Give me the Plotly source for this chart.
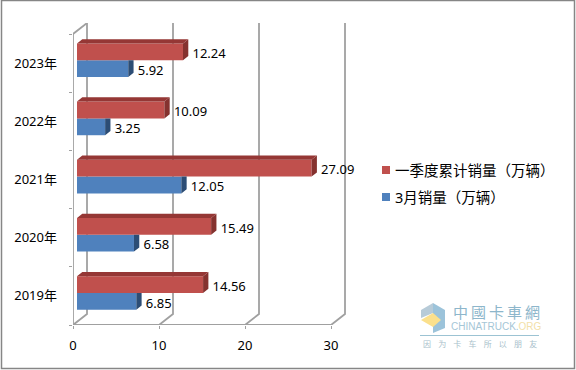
import plotly.graph_objects as go

categories = ["2019年", "2020年", "2021年", "2022年", "2023年"]
q1_sales = [14.56, 15.49, 27.09, 10.09, 12.24]
march_sales = [6.85, 6.58, 12.05, 3.25, 5.92]
q1_name = "一季度累计销量（万辆）"
march_name = "3月销量（万辆）"
x_ticks = [0, 10, 20, 30]

FONT = "Noto Sans CJK SC"
NUMFONT = "Noto Sans, Noto Sans CJK SC"
RED, RED_SIDE, RED_TOP = "#C0504D", "#85322F", "#953735"
BLUE, BLUE_SIDE = "#4F81BD", "#2C4D75"
GRID = "#A0A0A0"

L, R, T, B = 73, 346, 23, 325
W, H = 576, 370
BAND = 58.1
X1_SCALE = 8.6
X2_SCALE = 8.66
BAR_SHIFT = 4
y_top = 4.5 + 11 / BAND
wall_dx = 14 / X1_SCALE
wall_dy = 11 / BAND
face_dx = 5.3 / X2_SCALE
face_dy = 4.2 / BAND
bar_h = 16.8 / BAND
centre = 0.05
ys = list(range(len(categories)))


def px(x):
    return (x - L) / (R - L)


def py(y):
    return (B - y) / (B - T)


fig = go.Figure()

# back wall and floor lines
gx, gy = [], []
for t in x_ticks:
    gx += [t, t + wall_dx, t + wall_dx, None]
    gy += [-0.5, -0.5 + wall_dy, y_top, None]
gx += [0, wall_dx, None]
gy += [4.5, y_top, None]
fig.add_trace(go.Scatter(x=gx, y=gy, mode="lines", line=dict(color=GRID, width=1.8),
                         hoverinfo="skip", showlegend=False, cliponaxis=False, xaxis="x", yaxis="y"))


def side_faces(values, offset, clip_top):
    xs, yy = [], []
    for i, v in zip(ys, values):
        t = i + centre + offset + bar_h
        b = i + centre + offset
        xs += [v, v + face_dx, v + face_dx, v, v, None]
        yy += [t, t + (0 if clip_top else face_dy), b + face_dy, b, t, None]
    return xs, yy


def top_faces(values, offset):
    xs, yy = [], []
    for i, v in zip(ys, values):
        t = i + centre + offset + bar_h
        xs += [0, face_dx, v + face_dx, v, 0, None]
        yy += [t, t + face_dy, t + face_dy, t, t, None]
    return xs, yy


# front faces
fig.add_trace(go.Bar(y=[i + centre - bar_h / 2 for i in ys], x=march_sales, orientation="h", width=bar_h,
                     marker=dict(color=BLUE, line=dict(width=0)), showlegend=False,
                     xaxis="x2", yaxis="y"))
fig.add_trace(go.Bar(y=[i + centre + bar_h / 2 for i in ys], x=q1_sales, orientation="h", width=bar_h,
                     marker=dict(color=RED, line=dict(width=0)), showlegend=False,
                     xaxis="x2", yaxis="y"))

# 3D faces
for (xs, yy), col in [
    (side_faces(march_sales, -bar_h, True), BLUE_SIDE),
    (side_faces(q1_sales, 0, False), RED_SIDE),
    (top_faces(q1_sales, 0), RED_TOP),
]:
    fig.add_trace(go.Scatter(x=xs, y=yy, mode="lines", fill="toself", fillcolor=col,
                             line=dict(width=0, color=col), hoverinfo="skip", showlegend=False,
                             xaxis="x2", yaxis="y"))

# data labels
label_gap = 9.5 / X2_SCALE
fig.add_trace(go.Scatter(x=[v + label_gap for v in q1_sales], y=[i + centre + bar_h / 2 - 0.05 for i in ys],
                         mode="text", text=[f"{v:.2f}" for v in q1_sales], textposition="middle right",
                         textfont=dict(family=NUMFONT, size=13, color="#000"), showlegend=False,
                         hoverinfo="skip", cliponaxis=False, xaxis="x2", yaxis="y"))
fig.add_trace(go.Scatter(x=[v + label_gap for v in march_sales], y=[i + centre - bar_h / 2 - 0.05 for i in ys],
                         mode="text", text=[f"{v:.2f}" for v in march_sales], textposition="middle right",
                         textfont=dict(family=NUMFONT, size=13, color="#000"), showlegend=False,
                         hoverinfo="skip", cliponaxis=False, xaxis="x2", yaxis="y"))

shapes = [
    dict(type="rect", xref="paper", yref="paper", x0=px(1.5), x1=px(574.5), y0=py(0.5), y1=py(368.5),
         line=dict(color="#868686", width=1.5), fillcolor="rgba(0,0,0,0)", layer="below"),
    dict(type="rect", xref="paper", yref="paper", x0=px(382), x1=px(390), y0=py(166), y1=py(174),
         line=dict(width=0), fillcolor=RED),
    dict(type="rect", xref="paper", yref="paper", x0=px(382), x1=px(390), y0=py(193), y1=py(201),
         line=dict(width=0), fillcolor=BLUE),
    # watermark
    dict(type="line", xref="paper", yref="paper", x0=px(420), x1=px(539), y0=py(335.5), y1=py(335.5),
         line=dict(color="#9CC3D3", width=1)),
    dict(type="path", xref="paper", yref="paper", line=dict(width=0), fillcolor="#9CC3DA",
         path=f"M {px(433)} {py(303)} L {px(445)} {py(310)} L {px(445)} {py(328)} L {px(433)} {py(333)} Z"),
    dict(type="path", xref="paper", yref="paper", line=dict(width=0), fillcolor="#B7CBD8",
         path=f"M {px(433)} {py(303)} L {px(421)} {py(310)} L {px(421)} {py(318)} L {px(433)} {py(313)} Z"),
    dict(type="path", xref="paper", yref="paper", line=dict(width=0), fillcolor="#FBE08C",
         path=f"M {px(421)} {py(320)} L {px(433)} {py(313)} L {px(441)} {py(320)} L {px(433)} {py(327)} Z"),
]

annotations = [
    dict(text=q1_name, x=px(393), y=py(169.5), xref="paper", yref="paper", xanchor="left", yanchor="middle",
         showarrow=False, font=dict(family=FONT, size=14.5, color="#000")),
    dict(text=march_name, x=px(393), y=py(196.5), xref="paper", yref="paper", xanchor="left", yanchor="middle",
         showarrow=False, font=dict(family=NUMFONT, size=14.5, color="#000")),
    dict(text="中\u2009國\u2009卡\u2009車\u2009網", x=px(496), y=py(311), xref="paper", yref="paper",
         xanchor="center", yanchor="middle", showarrow=False, borderpad=0,
         font=dict(family=FONT, size=15, color="#8DB6CB")),
    dict(text='CHINATRUCK.<span style="color:#F3DFA8">ORG</span>', x=px(496), y=py(326), xref="paper", yref="paper",
         xanchor="center", yanchor="middle", showarrow=False, borderpad=0,
         font=dict(family="Liberation Sans", size=10, color="#A5C6D6")),
    dict(text="\u00a0\u00a0\u00a0\u00a0".join("因为卡车所以朋友"), x=px(480), y=py(343), xref="paper", yref="paper",
         xanchor="center", yanchor="middle", showarrow=False, borderpad=0,
         font=dict(family=FONT, size=8, color="#A9BFCB")),
]

lo2 = -BAR_SHIFT / X2_SCALE
fig.update_layout(
    width=W, height=H, autosize=False,
    margin=dict(l=L, r=W - R, t=T, b=H - B, pad=0),
    paper_bgcolor="white", plot_bgcolor="white",
    barmode="overlay", showlegend=False,
    font=dict(family=FONT, size=13, color="#000"),
    xaxis=dict(range=[0, (R - L) / X1_SCALE], tickmode="array", tickvals=x_ticks,
               ticktext=[str(t) for t in x_ticks], ticks="outside", ticklen=3, tickcolor=GRID, tickwidth=1,
               showgrid=False, zeroline=False, showline=False, ticklabelstandoff=5,
               tickfont=dict(family=NUMFONT, size=13, color="#000")),
    xaxis2=dict(range=[lo2, lo2 + (R - L) / X2_SCALE], overlaying="x", visible=False),
    yaxis=dict(range=[-0.5, y_top], tickmode="array", tickvals=ys, ticktext=categories,
               ticks="", showgrid=False, zeroline=False, showline=False, ticklabelstandoff=15,
               tickfont=dict(family=NUMFONT, size=13, color="#000"),
               minor=dict(tickmode="array", tickvals=[i - 0.5 for i in range(len(categories) + 1)],
                          ticks="outside", ticklen=3, tickcolor=GRID, tickwidth=1, showgrid=False)),
    shapes=shapes, annotations=annotations,
)
# front axis lines
fig.add_trace(go.Scatter(x=[0, 0, None, 0, 30], y=[4.5, -0.5, None, -0.5, -0.5], mode="lines",
                         line=dict(color=GRID, width=1.8), hoverinfo="skip", showlegend=False,
                         cliponaxis=False, xaxis="x", yaxis="y"))

fig.write_html("out.html", config={"displayModeBar": False},
               post_script="document.body.style.margin='0';")
